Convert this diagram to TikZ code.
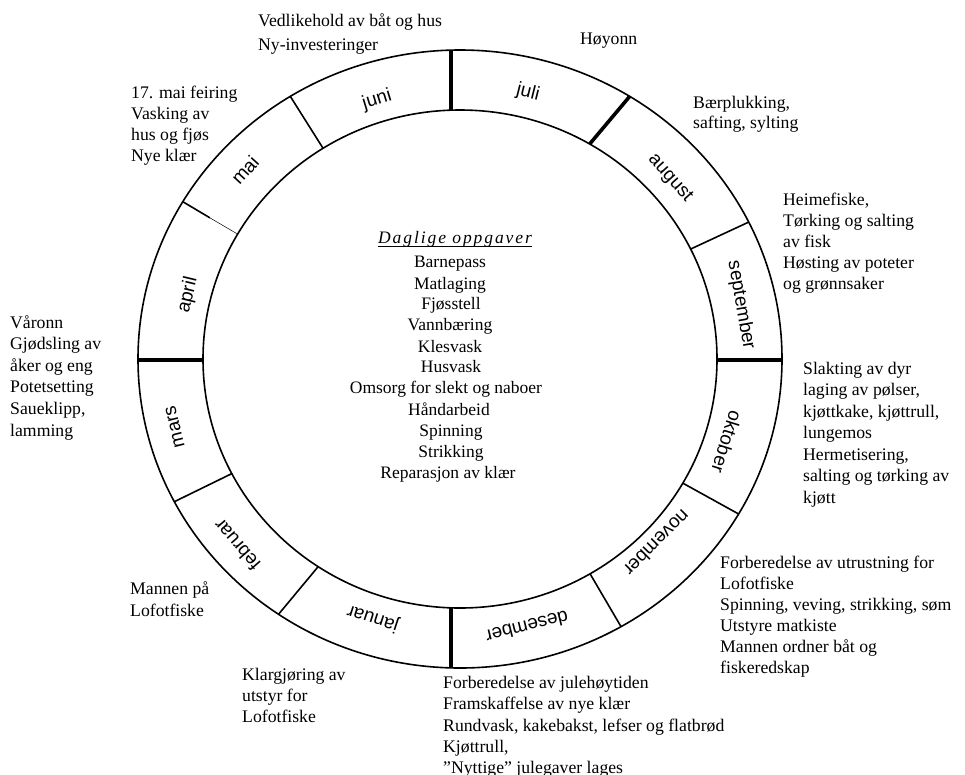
\documentclass[tikz,border=0pt]{standalone}
\usepackage{fontspec}
\setmainfont{Liberation Serif}
\newfontfamily\msans{Liberation Sans}
\newcommand\ringdiv[3]{\draw[#1] ({460+322*cos(#2)},{359-309*sin(#2)}) -- ({460+257*cos(#3)},{359-249*sin(#3)});}
\begin{document}
\begin{tikzpicture}[x=1pt,y=-1pt,
  ann/.style={anchor=north west, inner sep=0pt, align=left, font=\fontsize{17.7}{21.5}\selectfont},
  mon/.style={inner sep=0pt, font=\msans\fontsize{19}{22}\selectfont},
  ringline/.style={line width=1.6pt},
  thickdiv/.style={line width=3.6pt},
  normdiv/.style={line width=1.6pt},
  thindiv/.style={line width=0.5pt},
  daily/.style={inner sep=0pt, anchor=base, font=\fontsize{17.5}{21.5}\selectfont}]
\useasboundingbox (0,0) rectangle (965,774);
% ring
\draw[ringline] (460,359) ellipse [x radius=322pt, y radius=309pt];
\draw[ringline] (460,359) ellipse [x radius=257pt, y radius=249pt];
% dividers
\draw[thickdiv] (451,50) -- (451,111);
\draw[thickdiv] (451,608) -- (451,667);
\draw[thickdiv] (138,360) -- (203,360);
\draw[thickdiv] (717,360) -- (782,360);
\ringdiv{thickdiv}{58.2}{59.7}
\ringdiv{normdiv}{121.8}{122.2}
\draw[normdiv] ({460+322*cos(149.4)},{359-309*sin(149.4)}) -- ({460+290*cos(149.6)},{359-279*sin(149.6)});
\draw[thindiv] ({460+290*cos(149.6)},{359-279*sin(149.6)}) -- ({460+257*cos(149.9)},{359-249*sin(149.9)});
\ringdiv{normdiv}{207.5}{207.4}
\ringdiv{normdiv}{235.7}{236.5}
\ringdiv{normdiv}{300}{300.4}
\ringdiv{normdiv}{329.9}{330.1}
\ringdiv{normdiv}{26.3}{26.2}
% month labels
\node[mon, rotate=17] (juni) at (377,100) {juni};
\node[mon, rotate=-14] (juli) at (528,93) {juli};
\node[mon, rotate=-48] (aug) at (670,178) {august};
\node[mon, rotate=-80] (sep) at (741,305) {september};
\node[mon, rotate=-107.5] (okt) at (727,442) {oktober};
\node[mon, rotate=-135] (nov) at (657,543) {november};
\node[mon, rotate=-166] (des) at (527,627) {desember};
\node[mon, rotate=162] (jan) at (373,618) {januar};
\node[mon, rotate=131] (feb) at (237,545) {februar};
\node[mon, rotate=104] (mar) at (175,427) {mars};
\node[mon, rotate=76.5] (apr) at (188,295) {april};
\node[mon, rotate=47.7] (mai) at (245,170) {mai};
% daily tasks
\node[daily, font=\fontsize{17.5}{21.5}\selectfont\itshape\addfontfeature{LetterSpace=11}] (title) at (455,243.5) {Daglige oppgaver};
\draw[line width=1.1pt] ([yshift=-3pt]title.base west) -- ([yshift=-3pt]title.base east);
\node[daily] (d1) at (450,267.5) {Barnepass};
\node[daily] (d2) at (450,289) {Matlaging};
\node[daily] (d3) at (451,309.5) {Fjøsstell};
\node[daily] (d4) at (450,330) {Vannbæring};
\node[daily] (d5) at (450,352.5) {Klesvask};
\node[daily] (d6) at (451,372.5) {Husvask};
\node[daily] (d7) at (446,393.5) {Omsorg for slekt og naboer};
\node[daily] (d8) at (449,415.5) {Håndarbeid};
\node[daily] (d9) at (451,436) {Spinning};
\node[daily] (d10) at (451,457) {Strikking};
\node[daily] (d11) at (448,478.5) {Reparasjon av klær};
% annotations
\node[ann, font=\fontsize{17.7}{24}\selectfont] (a1) at (258,13) {Vedlikehold av båt og hus\\Ny-investeringer};
\node[ann] (a2) at (580,33) {Høyonn};
\node[ann, font=\fontsize{17.7}{21}\selectfont] (a3) at (131,86) {17. mai feiring\\Vasking av\\hus og fjøs\\Nye klær};
\node[ann, font=\fontsize{17.7}{20}\selectfont] (a4) at (693,96) {Bærplukking,\\safting, sylting};
\node[ann, font=\fontsize{17.7}{21}\selectfont] (a5) at (783,193) {Heimefiske,\\Tørking og salting\\av fisk\\Høsting av poteter\\og grønnsaker};
\node[ann, font=\fontsize{17.7}{21.6}\selectfont] (a6) at (10,315) {Våronn\\Gjødsling av\\åker og eng\\Potetsetting\\Saueklipp,\\lamming};
\node[ann] (a7) at (803,362) {Slakting av dyr\\laging av pølser,\\kjøttkake, kjøttrull,\\lungemos\\Hermetisering,\\salting og tørking av\\kjøtt};
\node[ann, font=\fontsize{17.7}{21}\selectfont] (a8) at (720,556) {Forberedelse av utrustning for\\Lofotfiske\\Spinning, veving, strikking, søm\\Utstyre matkiste\\Mannen ordner båt og\\fiskeredskap};
\node[ann, font=\fontsize{17.7}{21.3}\selectfont] (a9) at (443,676) {Forberedelse av julehøytiden\\Framskaffelse av nye klær\\Rundvask, kakebakst, lefser og flatbrød\\Kjøttrull,\\”Nyttige” julegaver lages};
\node[ann, font=\fontsize{17.7}{21}\selectfont] (a10) at (242,668) {Klargjøring av\\utstyr for\\Lofotfiske};
\node[ann, font=\fontsize{17.7}{22}\selectfont] (a11) at (130,581) {Mannen på\\Lofotfiske};
\end{tikzpicture}
\end{document}
